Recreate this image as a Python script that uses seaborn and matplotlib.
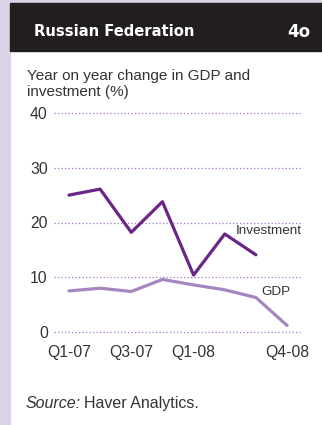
import matplotlib
matplotlib.use("Agg")
import matplotlib.pyplot as plt
import seaborn as sns
import pandas as pd
from matplotlib.patches import Rectangle

quarters = ["Q1-07", "Q2-07", "Q3-07", "Q4-07", "Q1-08", "Q2-08", "Q3-08", "Q4-08"]
investment = [25.0, 26.1, 18.2, 23.8, 10.4, 17.9, 14.1, None]
gdp = [7.5, 8.0, 7.4, 9.6, 8.6, 7.7, 6.3, 1.2]
tick_labels = ["Q1-07", "", "Q3-07", "", "Q1-08", "", "", "Q4-08"]
y_ticks = [0, 10, 20, 30, 40]

sns.set_theme(style="white")
plt.rcParams["font.family"] = ["Liberation Sans", "DejaVu Sans"]

W, H = 322, 425
fig = plt.figure(figsize=(W / 100, H / 100), dpi=100)
fig.patch.set_facecolor("white")

# decorative frame
fig.add_artist(Rectangle((0, 0), 10 / W, 1, transform=fig.transFigure, color="#dcd2e8", zorder=0))
fig.add_artist(Rectangle((0, (H - 3) / H), 1, 3 / H, transform=fig.transFigure, color="#dcd2e8", zorder=0))
fig.add_artist(Rectangle((10 / W, (H - 51) / H), 1, 48 / H, transform=fig.transFigure, color="#221e1f", zorder=1))
fig.text(34 / W, 1 - 32 / H, "Russian Federation", color="white", fontsize=10.6,
         family="DejaVu Sans", fontweight="bold", va="center", ha="left")
fig.text(310 / W, 1 - 32 / H, "4o", color="white", fontsize=12,
         family="DejaVu Sans", fontweight="bold", va="center", ha="right")
fig.text(27 / W, 1 - 80 / H, "Year on year change in GDP and", color="#333333",
         fontsize=11, va="baseline", ha="left")
fig.text(27 / W, 1 - 96 / H, "investment (%)", color="#333333",
         fontsize=11, va="baseline", ha="left")
src = fig.text(26 / W, 1 - 408 / H, "Source:", color="#333333", fontsize=11.5,
               fontstyle="italic", va="baseline", ha="left")
renderer = fig.canvas.get_renderer()
bb = src.get_window_extent(renderer=renderer)
fig.text((bb.x1 + 3) / W, 1 - 408 / H, "Haver Analytics.", color="#333333", fontsize=11.5,
         va="baseline", ha="left")

ax = fig.add_axes([54 / W, 93 / H, 248 / W, 219 / H])
ax.set_facecolor("none")

df = pd.DataFrame({
    "idx": list(range(len(quarters))) * 2,
    "value": investment + gdp,
    "series": ["Investment"] * len(quarters) + ["GDP"] * len(quarters),
})
sns.lineplot(data=df, x="idx", y="value", hue="series",
             palette={"Investment": "#6b2587", "GDP": "#a686c0"},
             linewidth=2.3, legend=False, ax=ax, clip_on=False)

ax.set_xlim(-0.48, 7.48)
ax.set_ylim(0, 40)
ax.set_yticks(y_ticks)
ax.set_yticklabels([str(t) for t in y_ticks])
ax.set_xticks(range(len(quarters)))
ax.set_xticklabels(tick_labels)
ax.tick_params(axis="both", length=0, labelsize=11.3, colors="#333333")
ax.tick_params(axis="y", pad=4.5)
ax.tick_params(axis="x", pad=9)
ax.set_xlabel("")
ax.set_ylabel("")
for s in ax.spines.values():
    s.set_visible(False)
for t in y_ticks:
    ax.axhline(t, color="#a874cc", linewidth=0.9, linestyle=(0, (1, 1.8)), zorder=0, clip_on=False)

ax.text(7.48, 18.4, "Investment", color="#333333", fontsize=9.7, ha="right", va="center")
ax.text(6.65, 7.3, "GDP", color="#333333", fontsize=9.7, ha="center", va="center")

fig.savefig("out.png", dpi=100, facecolor=fig.get_facecolor())
